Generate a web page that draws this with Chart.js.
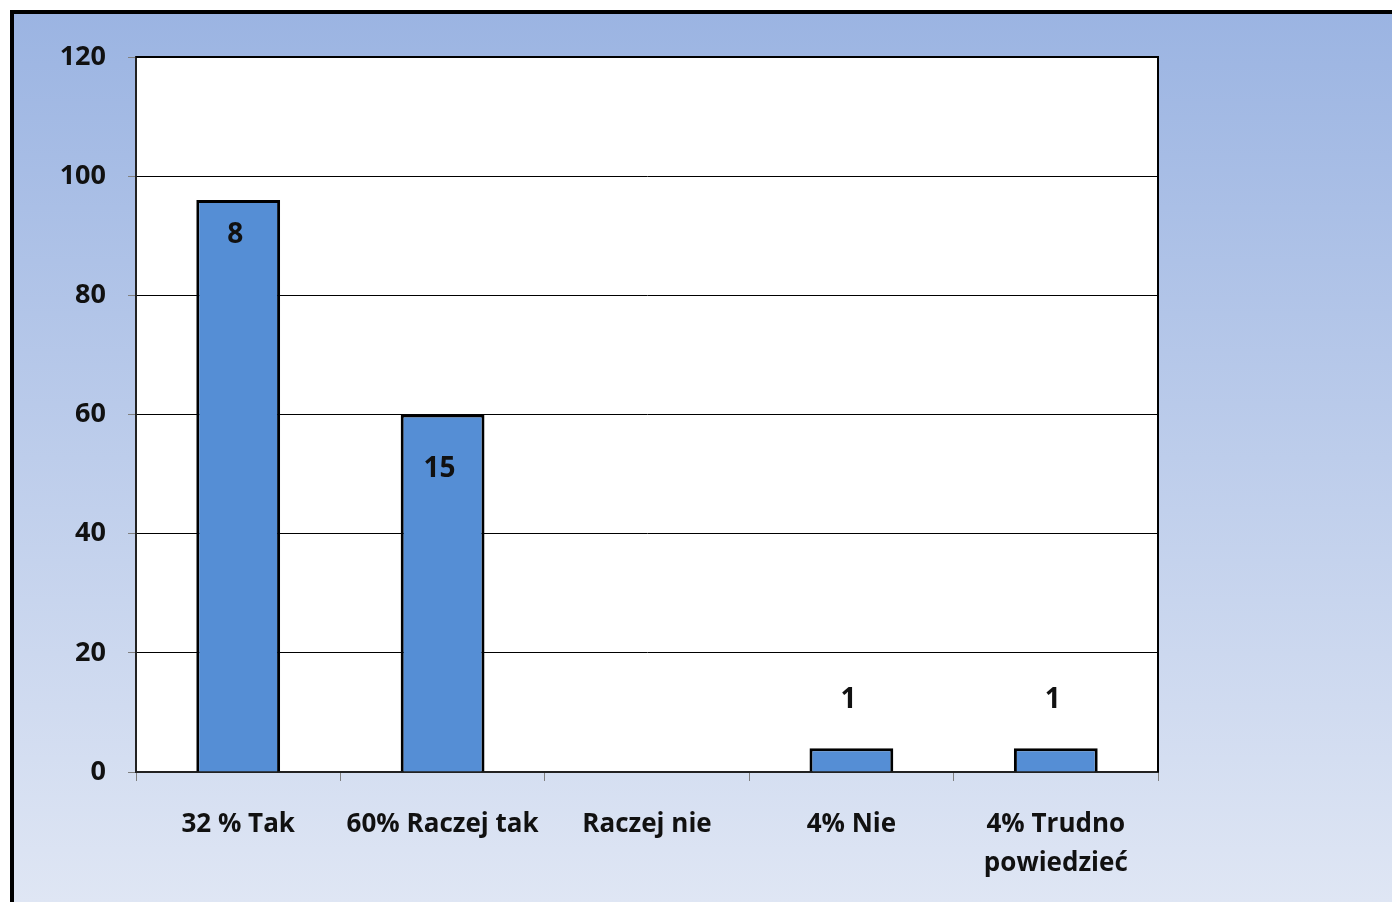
<!DOCTYPE html>
<html>
<head>
<meta charset="utf-8">
<script src="https://cdn.jsdelivr.net/npm/chart.js@4/dist/chart.umd.min.js"></script>
<style>
  html, body { margin: 0; padding: 0; background: #fff; }
  #wrap { width: 1392px; height: 902px; position: relative; }
</style>
</head>
<body>
<div id="wrap"><canvas id="chart" width="1392" height="902"></canvas></div>
<script>
// data
const categories = ["32 % Tak", "60% Raczej tak", "Raczej nie", "4% Nie", ["4% Trudno", "powiedzieć"]];
const values = [96, 60, 0, 4, 4];
const barLabels = ["8", "15", "", "1", "1"];
const yTicks = [0, 20, 40, 60, 80, 100, 120];

const FONT = "'Open Sans', Lato, sans-serif";

// background gradient + black frame, white plot area
const backdrop = {
  id: "backdrop",
  beforeDraw(chart) {
    const { ctx, width, height, chartArea: a } = chart;
    ctx.save();
    ctx.fillStyle = "#fff";
    ctx.fillRect(0, 0, width, height);
    const g = ctx.createLinearGradient(0, 12, 0, height);
    g.addColorStop(0, "#9bb4e2");
    g.addColorStop(1, "#dfe6f4");
    ctx.fillStyle = g;
    ctx.fillRect(12, 12, width - 12, height - 12);
    ctx.fillStyle = "#000";
    ctx.fillRect(10, 10, width - 10, 4);
    ctx.fillRect(10, 10, 4, height - 10);
    ctx.fillStyle = "#fff";
    ctx.fillRect(a.left, a.top, a.right - a.left, a.bottom - a.top);
    ctx.restore();
  },
  afterDraw(chart) {
    const { ctx, chartArea: a } = chart;
    ctx.save();
    ctx.strokeStyle = "#000";
    ctx.lineWidth = 2;
    ctx.beginPath();
    ctx.moveTo(a.left, a.top);
    ctx.lineTo(a.right, a.top);
    ctx.lineTo(a.right, a.bottom);
    ctx.stroke();
    ctx.restore();
  }
};

// value labels: inside tall bars, above short ones
const valueLabels = {
  id: "valueLabels",
  afterDatasetsDraw(chart) {
    const { ctx } = chart;
    const meta = chart.getDatasetMeta(0);
    ctx.save();
    ctx.font = "bold 28px " + FONT;
    ctx.fillStyle = "#111";
    ctx.textAlign = "center";
    ctx.textBaseline = "middle";
    meta.data.forEach((bar, i) => {
      const txt = barLabels[i];
      if (!txt) return;
      let y;
      if (values[i] > 80) y = bar.y + 35;
      else if (values[i] > 20) y = bar.y + 55;
      else y = bar.y - 48;
      ctx.fillText(txt, bar.x - 3, y);
    });
    ctx.restore();
  }
};

const canvas = document.getElementById("chart");
new Chart(canvas.getContext("2d"), {
  type: "bar",
  data: {
    labels: categories,
    datasets: [{
      data: values,
      backgroundColor: "#558ed5",
      borderColor: "#000",
      borderWidth: 3,
      categoryPercentage: 1,
      barPercentage: 0.41
    }]
  },
  options: {
    responsive: false,
    animation: false,
    layout: { padding: { left: 14, top: 57, right: 234, bottom: 0 } },
    plugins: { legend: { display: false }, tooltip: { enabled: false } },
    scales: {
      x: {
        afterFit(s) { s.height = 130; },
        grid: { drawOnChartArea: false, offset: true, tickLength: 9, tickColor: "#7f7f7f" },
        border: { color: "#222", width: 2 },
        ticks: { color: "#111", padding: 24, font: { family: FONT, size: 26, weight: "bold", lineHeight: 1.5 } }
      },
      y: {
        min: 0,
        max: 120,
        afterFit(s) { s.width = 122; },
        afterBuildTicks(s) { s.ticks = yTicks.map(v => ({ value: v })); },
        grid: { color: "#000", lineWidth: 1, tickLength: 8, tickColor: "#7f7f7f" },
        border: { color: "#222", width: 2 },
        ticks: { color: "#111", padding: 22, font: { family: FONT, size: 27, weight: "bold" } }
      }
    }
  },
  plugins: [backdrop, valueLabels]
});
</script>
</body>
</html>
